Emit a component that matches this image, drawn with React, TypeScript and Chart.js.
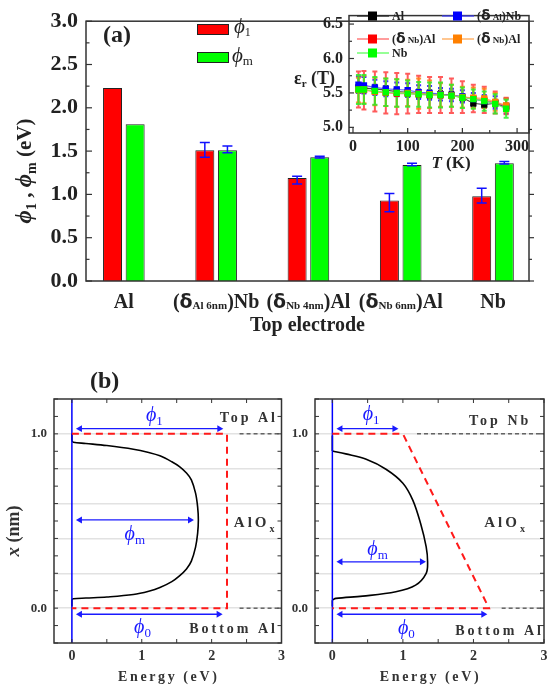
import React, { useEffect, useRef } from 'react';
import { Chart, registerables } from 'chart.js';
Chart.register(...registerables);

const SERIF = '"Liberation Serif", "Times New Roman", serif';
const INK = '#222';

// ---------- Panel (a): barrier heights ----------
const catPre = ['Al', '(δ', '(δ', '(δ', 'Nb'];
const catSub = ['', 'Al 6nm', 'Nb 4nm', 'Nb 6nm', ''];
const catPost = ['', ')Nb', ')Al', ')Al', ''];
const phi1 = [2.23, 1.51, 1.19, 0.93, 0.98];
const phi1Lo = [null, 1.43, 1.12, 0.80, 0.90];
const phi1Hi = [null, 1.60, 1.21, 1.01, 1.07];
const phim = [1.81, 1.51, 1.43, 1.34, 1.36];
const phimLo = [null, 1.48, 1.42, 1.33, 1.35];
const phimHi = [null, 1.56, 1.44, 1.36, 1.38];
const phiTicks = [0, 0.5, 1.0, 1.5, 2.0, 2.5, 3.0];

// ---------- Inset: eps_r(T) ----------
const tempK = [10, 20, 40, 60, 80, 100, 120, 140, 160, 180, 200, 220, 240, 260, 280];
const epsAl = [5.58, 5.57, 5.56, 5.54, 5.52, 5.51, 5.49, 5.48, 5.48, 5.47, 5.43, 5.35, 5.33, 5.35, 5.29];
const errAl = [0.06, 0.06, 0.06, 0.06, 0.06, 0.06, 0.06, 0.06, 0.05, 0.05, 0.05, 0.05, 0.05, 0.05, 0.05];
const epsAlNb = [5.62, 5.61, 5.58, 5.56, 5.55, 5.54, 5.51, 5.50, 5.48, 5.47, 5.45, 5.41, 5.38, 5.36, 5.31];
const errAlNb = [0.12, 0.12, 0.11, 0.11, 0.10, 0.10, 0.10, 0.10, 0.09, 0.09, 0.09, 0.09, 0.09, 0.09, 0.11];
const epsNbAlA = [5.55, 5.54, 5.52, 5.50, 5.49, 5.49, 5.48, 5.47, 5.47, 5.46, 5.44, 5.42, 5.40, 5.36, 5.31];
const errNbAlA = [0.26, 0.28, 0.29, 0.30, 0.30, 0.29, 0.27, 0.26, 0.26, 0.25, 0.23, 0.20, 0.19, 0.16, 0.12];
const epsNbAlB = [5.54, 5.55, 5.52, 5.51, 5.50, 5.50, 5.49, 5.48, 5.47, 5.46, 5.44, 5.43, 5.42, 5.37, 5.32];
const errNbAlB = [0.18, 0.20, 0.20, 0.20, 0.20, 0.19, 0.22, 0.20, 0.17, 0.16, 0.15, 0.15, 0.14, 0.13, 0.10];
const epsNb = [5.55, 5.55, 5.53, 5.51, 5.50, 5.49, 5.48, 5.47, 5.47, 5.46, 5.43, 5.41, 5.38, 5.34, 5.27];
const errNb = [0.21, 0.21, 0.20, 0.20, 0.20, 0.19, 0.18, 0.18, 0.18, 0.16, 0.15, 0.14, 0.14, 0.14, 0.13];
const epsTicksY = [5.0, 5.5, 6.0, 6.5];
const epsTicksX = [0, 100, 200, 300];

// ---------- Panel (b): barrier profiles ----------
const leftCurveE = [0, 0, 0.02, 0.2, 0.5, 0.88, 1.1, 1.26, 1.43, 1.54, 1.64, 1.71, 1.77, 1.80, 1.81, 1.80, 1.77, 1.71, 1.64, 1.54, 1.43, 1.26, 1.1, 0.88, 0.5, 0.2, 0.02, 0, 0];
const leftCurveX = [1.0, 0.96, 0.952, 0.945, 0.933, 0.912, 0.893, 0.874, 0.84, 0.812, 0.775, 0.736, 0.66, 0.58, 0.506, 0.43, 0.35, 0.27, 0.225, 0.185, 0.152, 0.118, 0.097, 0.078, 0.064, 0.058, 0.054, 0.05, 0.01];
const rightCurveE = [0, 0, 0.19, 0.48, 0.76, 1.0, 1.14, 1.25, 1.33, 1.35, 1.33, 1.18, 0.9, 0.43, 0.05, 0, 0];
const rightCurveX = [0.99, 0.902, 0.885, 0.854, 0.797, 0.717, 0.62, 0.487, 0.352, 0.266, 0.2, 0.132, 0.094, 0.069, 0.056, 0.046, 0.01];
const leftBarrierE = [0, 2.22, 2.22, 0];
const leftBarrierX = [1, 1, 0, 0];
const rightBarrierE = [0, 1.0, 2.22, 0];
const rightBarrierX = [1, 1, 0, 0];
const leftOuterStart = [2.4, 2.4];
const rightOuterStart = [1.2, 2.4];
const outerLevels = [1, 0];
const arrowY = [1.03, 0.506, -0.035];
const arrowYRight = [1.03, 0.266, -0.035];
const leftArrowEnd = [2.11, 1.69, 2.10];
const rightArrowEnd = [0.88, 1.27, 2.14];
const arrowStart = 0.115;
const arrowNames = ['1', 'm', '0'];
const energyTicks = [0, 1, 2, 3];
const posGrid = [0, 0.2, 0.4, 0.6, 0.8, 1.0];

type Seg = { t: string; f: string; dy?: number; c?: string; ls?: number };
function rich(ctx: CanvasRenderingContext2D, segs: Seg[], x: number, y: number, align: 'left' | 'center' | 'right') {
  let w = 0;
  for (const s of segs) {
    ctx.font = s.f;
    (ctx as any).letterSpacing = (s.ls || 0) + 'px';
    w += ctx.measureText(s.t).width;
  }
  let cx = align === 'left' ? x : align === 'center' ? x - w / 2 : x - w;
  ctx.textAlign = 'left';
  ctx.textBaseline = 'alphabetic';
  for (const s of segs) {
    ctx.font = s.f;
    (ctx as any).letterSpacing = (s.ls || 0) + 'px';
    ctx.fillStyle = s.c || INK;
    ctx.fillText(s.t, cx, y + (s.dy || 0));
    cx += ctx.measureText(s.t).width;
  }
  (ctx as any).letterSpacing = '0px';
}
const F = (style: string, size: number) => `${style} ${size}px ${SERIF}`;

function frame(ctx: CanvasRenderingContext2D, a: any, color = '#333', lw = 1.5) {
  ctx.save();
  ctx.strokeStyle = color;
  ctx.lineWidth = lw;
  ctx.strokeRect(a.left, a.top, a.right - a.left, a.bottom - a.top);
  ctx.restore();
}
function tickV(ctx: CanvasRenderingContext2D, x: number, y: number, len: number) {
  ctx.beginPath(); ctx.moveTo(x, y); ctx.lineTo(x + len, y); ctx.stroke();
}
function tickH(ctx: CanvasRenderingContext2D, x: number, y: number, len: number) {
  ctx.beginPath(); ctx.moveTo(x, y); ctx.lineTo(x, y + len); ctx.stroke();
}

function makeBars(): any {
  const errPlugin = {
    id: 'errA',
    afterDatasetsDraw(chart: any) {
      const ctx = chart.ctx; const y = chart.scales.y;
      const lows = [phi1Lo, phimLo]; const highs = [phi1Hi, phimHi];
      ctx.save(); ctx.strokeStyle = '#1010ff'; ctx.lineWidth = 1.5;
      [0, 1].forEach((d) => {
        chart.getDatasetMeta(d).data.forEach((el: any, i: number) => {
          const lo = lows[d][i]; const hi = highs[d][i];
          if (lo == null || hi == null) return;
          const y1 = y.getPixelForValue(lo), y2 = y.getPixelForValue(hi);
          ctx.beginPath();
          ctx.moveTo(el.x, y1); ctx.lineTo(el.x, y2);
          ctx.moveTo(el.x - 5, y1); ctx.lineTo(el.x + 5, y1);
          ctx.moveTo(el.x - 5, y2); ctx.lineTo(el.x + 5, y2);
          ctx.stroke();
        });
      });
      ctx.restore();
    },
    afterDraw(chart: any) {
      const ctx = chart.ctx; const a = chart.chartArea; const y = chart.scales.y; const x = chart.scales.x;
      frame(ctx, a, '#333', 1.5);
      ctx.save(); ctx.strokeStyle = '#333'; ctx.lineWidth = 1.2;
      for (let v = 0; v <= 3.001; v += 0.25) {
        const py = y.getPixelForValue(v);
        const major = Math.abs(v * 2 - Math.round(v * 2)) < 1e-6;
        tickV(ctx, a.left, py, major ? 6 : 3.5);
        tickV(ctx, a.right, py, major ? 5 : 3);
      }
      ctx.restore();
      for (let i = 0; i < catPre.length; i++) {
        const px = x.getPixelForValue(i);
        const segs: Seg[] = [];
        if (catSub[i]) {
          segs.push({ t: '(', f: F('bold', 20) });
          segs.push({ t: 'δ', f: `bold 19px "DejaVu Sans", sans-serif` });
          segs.push({ t: catSub[i], f: F('bold', 11), dy: 1 });
          segs.push({ t: catPost[i], f: F('bold', 20) });
        } else {
          segs.push({ t: catPre[i], f: F('bold', 20) });
        }
        rich(ctx, segs, px, 308, 'center');
      }
      rich(ctx, [{ t: 'Top electrode', f: F('bold', 20) }], (a.left + a.right) / 2, 331, 'center');
      ctx.save();
      ctx.translate(31, 171);
      ctx.rotate(-Math.PI / 2);
      rich(ctx, [
        { t: 'ϕ', f: F('italic bold', 23) },
        { t: '1', f: F('bold', 14), dy: 5 },
        { t: ' , ', f: F('bold', 21) },
        { t: 'ϕ', f: F('italic bold', 23) },
        { t: 'm', f: F('bold', 14), dy: 5 },
        { t: ' (eV)', f: F('bold', 21) },
      ], 0, 0, 'center');
      ctx.restore();
      ctx.save();
      ctx.lineWidth = 1; ctx.strokeStyle = '#222';
      ctx.fillStyle = '#ff0000'; ctx.fillRect(197, 24, 31, 10); ctx.strokeRect(197.5, 24.5, 31, 10);
      ctx.fillStyle = '#00ff00'; ctx.fillRect(197, 52, 31, 10); ctx.strokeRect(197.5, 52.5, 31, 10);
      ctx.restore();
      rich(ctx, [{ t: 'ϕ', f: F('italic', 21) }, { t: '1', f: F('', 12), dy: 3 }], 234, 33, 'left');
      rich(ctx, [{ t: 'ϕ', f: F('italic', 21) }, { t: 'm', f: F('', 13), dy: 3 }], 232, 62, 'left');
      rich(ctx, [{ t: '(a)', f: F('bold', 24) }], 103, 42, 'left');
    },
  };
  return {
    type: 'bar',
    data: {
      datasets: [
        { data: phi1.map((v, i) => ({ x: i, y: v })), backgroundColor: '#ff0000', borderColor: '#222', borderWidth: 1, categoryPercentage: 0.98, barPercentage: 0.84 },
        { data: phim.map((v, i) => ({ x: i, y: v })), backgroundColor: '#00ff00', borderColor: '#222', borderWidth: 1, categoryPercentage: 0.98, barPercentage: 0.84 },
      ],
    },
    options: {
      animation: false, responsive: false, maintainAspectRatio: false,
      layout: { padding: { left: 0, top: 8, right: 29, bottom: 0 } },
      plugins: { legend: { display: false }, tooltip: { enabled: false } },
      scales: {
        x: {
          type: 'linear', min: -0.41, max: 4.39, offset: false,
          grid: { display: false, drawTicks: false, offset: false }, border: { display: false },
          ticks: { display: false },
          afterFit: (s: any) => { s.height = 64; },
        },
        y: {
          min: 0, max: 3,
          afterBuildTicks: (s: any) => { s.ticks = phiTicks.map((v) => ({ value: v })); },
          ticks: { font: { family: SERIF, size: 22, weight: 'bold' }, color: INK, padding: 8, callback: (v: any) => Number(v).toFixed(1) },
          grid: { display: false, drawTicks: false }, border: { display: false },
          afterFit: (s: any) => { s.width = 86; },
        },
      },
    },
    plugins: [errPlugin],
  };
}

const insetSeries = [
  { name: 'Al', y: epsAl, e: errAl, c: '#000000', l: 'rgba(40,40,40,0.85)', eb: 'rgba(30,30,30,0.9)' },
  { name: 'AlNb', y: epsAlNb, e: errAlNb, c: '#0000ff', l: 'rgba(60,60,255,0.8)', eb: 'rgba(30,30,255,0.9)' },
  { name: 'NbAlA', y: epsNbAlA, e: errNbAlA, c: '#ff0000', l: 'rgba(255,90,90,0.8)', eb: 'rgba(255,50,50,0.8)' },
  { name: 'NbAlB', y: epsNbAlB, e: errNbAlB, c: '#ff8000', l: 'rgba(255,160,70,0.8)', eb: 'rgba(255,130,20,0.85)' },
  { name: 'Nb', y: epsNb, e: errNb, c: '#00ff00', l: 'rgba(90,255,90,0.85)', eb: 'rgba(40,240,40,0.85)' },
];

function makeInset(): any {
  const plug = {
    id: 'inset',
    beforeDatasetsDraw(chart: any) {
      const ctx = chart.ctx; const ys = chart.scales.y; const xs = chart.scales.x;
      ctx.save(); ctx.lineWidth = 2;
      insetSeries.forEach((s) => {
        ctx.strokeStyle = s.eb;
        tempK.forEach((t, i) => {
          const px = xs.getPixelForValue(t);
          const y1 = ys.getPixelForValue(s.y[i] - s.e[i]);
          const y2 = ys.getPixelForValue(s.y[i] + s.e[i]);
          ctx.beginPath();
          ctx.moveTo(px, y1); ctx.lineTo(px, y2);
          ctx.moveTo(px - 2.5, y1); ctx.lineTo(px + 2.5, y1);
          ctx.moveTo(px - 2.5, y2); ctx.lineTo(px + 2.5, y2);
          ctx.stroke();
        });
      });
      ctx.restore();
    },
    afterDraw(chart: any) {
      const ctx = chart.ctx; const a = chart.chartArea; const ys = chart.scales.y; const xs = chart.scales.x;
      frame(ctx, a, '#333', 1.5);
      ctx.save(); ctx.strokeStyle = '#333'; ctx.lineWidth = 1.2;
      for (let v = 5.0; v <= 6.501; v += 0.25) {
        const major = Math.abs(v * 2 - Math.round(v * 2)) < 1e-6;
        tickV(ctx, a.left, ys.getPixelForValue(v), major ? 5 : 3);
      }
      for (let t = 0; t <= 300; t += 50) {
        tickH(ctx, xs.getPixelForValue(t), a.bottom, t % 100 === 0 ? -5 : -3);
      }
      ctx.restore();
      const rows = [
        { s: 0, lx: 67, y: 16 }, { s: 1, lx: 152, y: 16 },
        { s: 2, lx: 67, y: 39 }, { s: 3, lx: 152, y: 39 },
        { s: 4, lx: 67, y: 53 },
      ];
      rows.forEach((r) => {
        const s = insetSeries[r.s];
        ctx.save();
        ctx.strokeStyle = s.l; ctx.lineWidth = 1.5;
        ctx.beginPath(); ctx.moveTo(r.lx, r.y); ctx.lineTo(r.lx + 32, r.y); ctx.stroke();
        ctx.fillStyle = s.c; ctx.fillRect(r.lx + 11, r.y - 4.5, 9, 9);
        ctx.restore();
        const tx = r.lx + 35; const by = r.y + 4;
        let segs: Seg[];
        if (r.s === 0) segs = [{ t: 'Al', f: F('bold', 12) }];
        else if (r.s === 4) segs = [{ t: 'Nb', f: F('bold', 12) }];
        else if (r.s === 1) segs = [{ t: '(', f: F('bold', 12) }, { t: 'δ', f: `bold 14px "DejaVu Sans", sans-serif` }, { t: ' Al', f: F('bold', 9) }, { t: ')Nb', f: F('bold', 12) }];
        else segs = [{ t: '(', f: F('bold', 12) }, { t: 'δ', f: `bold 14px "DejaVu Sans", sans-serif` }, { t: ' Nb', f: F('bold', 9) }, { t: ')Al', f: F('bold', 12) }];
        rich(ctx, segs, tx, by, 'left');
      });
      rich(ctx, [{ t: 'ε', f: F('bold', 18) }, { t: 'r', f: F('bold', 11), dy: 3 }, { t: ' (T)', f: F('bold', 18) }], 4, 84, 'left');
      rich(ctx, [{ t: 'T', f: F('italic bold', 17) }, { t: ' (K)', f: F('bold', 17) }], 161, 168, 'center');
    },
  };
  return {
    type: 'scatter',
    data: {
      datasets: insetSeries.map((s, k) => ({
        data: tempK.map((t, i) => ({ x: t, y: s.y[i] })),
        order: insetSeries.length - 1 - k,
        showLine: true, borderColor: s.l, borderWidth: 1.2,
        pointStyle: 'rect', pointRadius: 4.5, pointBackgroundColor: s.c, pointBorderColor: s.c, pointBorderWidth: 0,
      })),
    },
    options: {
      animation: false, responsive: false, maintainAspectRatio: false,
      layout: { padding: { left: 0, top: 8, right: 11, bottom: 0 } },
      plugins: { legend: { display: false }, tooltip: { enabled: false } },
      scales: {
        x: {
          type: 'linear', min: -7.3, max: 321.8,
          afterBuildTicks: (s: any) => { s.ticks = epsTicksX.map((v) => ({ value: v })); },
          ticks: { font: { family: SERIF, size: 16, weight: 'bold' }, color: INK, padding: 4, maxRotation: 0 },
          grid: { display: false, drawTicks: false }, border: { display: false },
          afterFit: (s: any) => { s.height = 42; },
        },
        y: {
          min: 4.918, max: 6.623,
          afterBuildTicks: (s: any) => { s.ticks = epsTicksY.map((v) => ({ value: v })); },
          ticks: { font: { family: SERIF, size: 16, weight: 'bold' }, color: INK, padding: 6, callback: (v: any) => Number(v).toFixed(1) },
          grid: { display: false, drawTicks: false }, border: { display: false },
          afterFit: (s: any) => { s.width = 59; },
        },
      },
    },
    plugins: [plug],
  };
}

type BandOpts = {
  curveE: number[]; curveX: number[]; barE: number[]; barX: number[];
  outer: number[]; arrowsY: number[]; arrowEnd: number[];
  xMin: number; yWidth: number; padRight: number; left: boolean;
};

function makeBand(o: BandOpts): any {
  const blue = '#1a1aff';
  const ds: any[] = [];
  const pts = o.curveE.map((e, i) => ({ x: e, y: o.curveX[i] }));
  const n = pts.length;
  ds.push({ data: o.barE.map((e, i) => ({ x: e, y: o.barX[i] })), showLine: true, borderColor: '#ff1a1a', borderWidth: 2, borderDash: [7, 5], pointRadius: 0 });
  o.outer.forEach((s, i) => {
    ds.push({ data: [{ x: s, y: outerLevels[i] }, { x: 3, y: outerLevels[i] }], showLine: true, borderColor: '#222', borderWidth: 1, borderDash: [4, 3], pointRadius: 0 });
  });
  ds.push({ data: [{ x: 0, y: -0.2 }, { x: 0, y: 1.2 }], showLine: true, borderColor: '#0000ff', borderWidth: 1.5, pointRadius: 0 });
  ds.push({ data: pts.slice(1, n - 1), showLine: true, borderColor: '#000', borderWidth: 1.6, pointRadius: 0, tension: 0.35 });
  ds.push({ data: pts.slice(0, 2), showLine: true, borderColor: '#000', borderWidth: 1.6, pointRadius: 0 });
  ds.push({ data: pts.slice(n - 2), showLine: true, borderColor: '#000', borderWidth: 1.6, pointRadius: 0 });
  o.arrowsY.forEach((yv, i) => {
    ds.push({
      data: [{ x: arrowStart, y: yv }, { x: o.arrowEnd[i], y: yv }], showLine: true,
      borderColor: blue, borderWidth: 1.3, pointStyle: 'triangle', pointRadius: 4, pointRotation: [270, 90],
      pointBackgroundColor: blue, pointBorderColor: blue, pointBorderWidth: 0,
    });
  });
  const labelPos = o.left
    ? [{ e: 1.18, y: 1.075 }, { e: 0.9, y: 0.39 }, { e: 1.01, y: -0.144 }]
    : [{ e: 0.55, y: 1.08 }, { e: 0.64, y: 0.305 }, { e: 1.05, y: -0.15 }];
  const plug = {
    id: 'band',
    afterDraw(chart: any) {
      const ctx = chart.ctx; const a = chart.chartArea; const xs = chart.scales.x; const ys = chart.scales.y;
      frame(ctx, a, '#333', 1.5);
      ctx.save(); ctx.strokeStyle = '#333'; ctx.lineWidth = 1;
      for (let k = -2; k <= 12; k++) {
        const py = ys.getPixelForValue(k / 10);
        tickV(ctx, a.left, py, 4);
        tickV(ctx, a.right, py, -4);
      }
      for (let k = 0; k <= 6; k++) {
        const px = xs.getPixelForValue(k / 2);
        tickH(ctx, px, a.top, 4);
        tickH(ctx, px, a.bottom, -4);
      }
      ctx.restore();
      labelPos.forEach((p, i) => {
        rich(ctx, [{ t: 'ϕ', f: F('italic', 20), c: blue }, { t: arrowNames[i], f: F('', 13), dy: 4, c: blue }], xs.getPixelForValue(p.e), ys.getPixelForValue(p.y), 'center');
      });
      const txt = (s: string, e: number, y: number) => rich(ctx, [{ t: s, f: F('bold', 14), ls: 3, c: '#333' }], xs.getPixelForValue(e), ys.getPixelForValue(y), 'right');
      if (o.left) {
        txt('Top Al', 2.95, 1.069);
        txt('Bottom Al', 2.95, -0.144);
        rich(ctx, [{ t: 'AlO', f: F('bold', 15), ls: 3, c: '#333' }, { t: 'x', f: F('bold', 10), dy: 5, c: '#333' }], xs.getPixelForValue(2.9), ys.getPixelForValue(0.466), 'right');
      } else {
        txt('Top Nb', 2.82, 1.052);
        txt('Bottom Al', 3.0, -0.155);
        rich(ctx, [{ t: 'AlO', f: F('bold', 15), ls: 3, c: '#333' }, { t: 'x', f: F('bold', 10), dy: 5, c: '#333' }], xs.getPixelForValue(2.73), ys.getPixelForValue(0.466), 'right');
      }
      rich(ctx, [{ t: 'Energy (eV)', f: F('bold', 14), ls: 2.6, c: '#333' }], (a.left + a.right) / 2 + 1, 326, 'center');
      if (o.left) {
        ctx.save();
        ctx.translate(19, 176);
        ctx.rotate(-Math.PI / 2);
        rich(ctx, [{ t: 'x', f: F('italic bold', 19), c: '#333' }, { t: ' (nm)', f: F('bold', 18), c: '#333' }], 0, 0, 'center');
        ctx.restore();
        rich(ctx, [{ t: '(b)', f: F('bold', 24) }], 90, 33, 'left');
      }
    },
  };
  return {
    type: 'scatter',
    data: { datasets: ds },
    options: {
      animation: false, responsive: false, maintainAspectRatio: false,
      layout: { padding: { left: 0, top: 44, right: o.padRight, bottom: 0 } },
      plugins: { legend: { display: false }, tooltip: { enabled: false } },
      scales: {
        x: {
          type: 'linear', min: o.xMin, max: 3,
          afterBuildTicks: (s: any) => { s.ticks = energyTicks.map((v) => ({ value: v })); },
          ticks: { font: { family: SERIF, size: 14, weight: 'bold' }, color: '#333', padding: 5, maxRotation: 0, callback: (v: any) => String(v) },
          grid: { display: false, drawTicks: false }, border: { display: false },
          afterFit: (s: any) => { s.height = 48; },
        },
        y: {
          min: -0.2, max: 1.2,
          afterBuildTicks: (s: any) => { s.ticks = posGrid.map((v) => ({ value: v })); },
          ticks: { font: { family: SERIF, size: 13, weight: 'bold' }, color: '#333', padding: 7, callback: (v: any) => (v === 0 ? '0.0' : v === 1 ? '1.0' : '') },
          grid: { color: '#e2e2e2', lineWidth: 1.5, drawTicks: false }, border: { display: false },
          afterFit: (s: any) => { s.width = o.yWidth; },
        },
      },
    },
    plugins: [plug],
  };
}

function ChartCanvas({ left, top, width, height, make }: { left: number; top: number; width: number; height: number; make: () => any }) {
  const ref = useRef<HTMLCanvasElement>(null);
  useEffect(() => {
    const c = new Chart(ref.current as HTMLCanvasElement, make());
    return () => c.destroy();
  }, []);
  return <canvas ref={ref} width={width} height={height} style={{ position: 'absolute', left, top, width, height }} />;
}

export default function App() {
  return (
    <div style={{ position: 'absolute', left: 0, top: 0, width: 558, height: 691, background: '#fff', overflow: 'hidden' }}>
      <ChartCanvas left={0} top={0} width={558} height={345} make={makeBars} />
      <ChartCanvas left={290} top={0} width={250} height={175} make={makeInset} />
      <ChartCanvas left={0} top={355} width={290} height={336} make={() => makeBand({
        curveE: leftCurveE, curveX: leftCurveX, barE: leftBarrierE, barX: leftBarrierX,
        outer: leftOuterStart, arrowsY: arrowY, arrowEnd: leftArrowEnd, xMin: -0.256, yWidth: 54, padRight: 7, left: true,
      })} />
      <ChartCanvas left={284} top={355} width={274} height={336} make={() => makeBand({
        curveE: rightCurveE, curveX: rightCurveX, barE: rightBarrierE, barX: rightBarrierX,
        outer: rightOuterStart, arrowsY: arrowYRight, arrowEnd: rightArrowEnd, xMin: -0.246, yWidth: 31, padRight: 14, left: false,
      })} />
    </div>
  );
}
